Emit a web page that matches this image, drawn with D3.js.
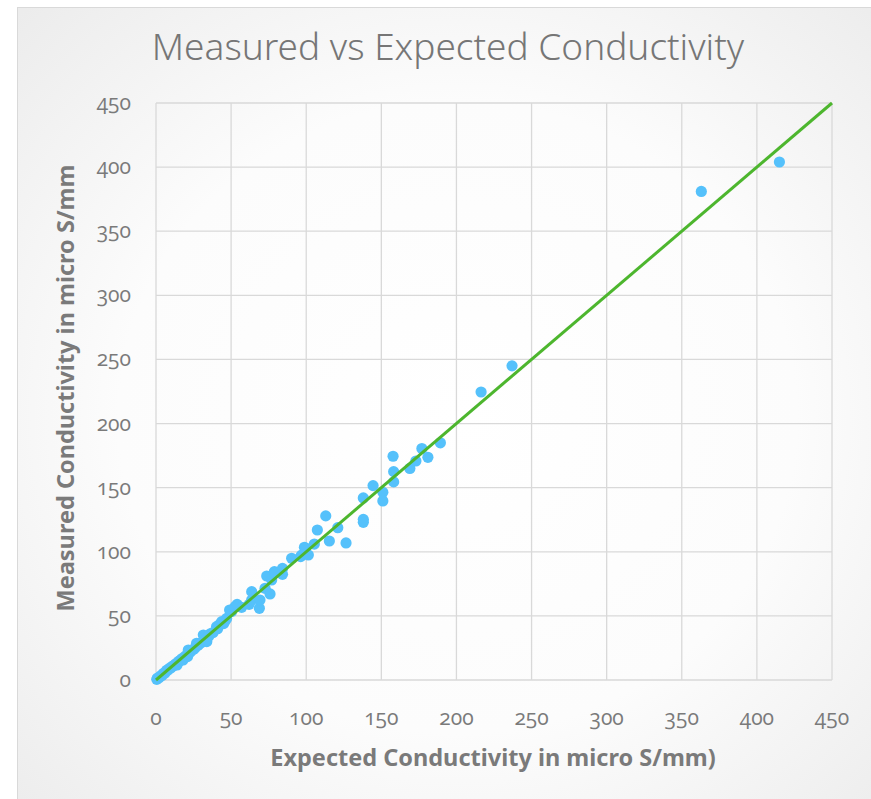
<!DOCTYPE html>
<html>
<head>
<meta charset="utf-8">
<script src="https://cdn.jsdelivr.net/npm/d3@7"></script>
<style>
  body { margin: 0; background: #fff; }
  svg text { font-family: "Noto Sans", "Open Sans", sans-serif; }
  .tick-label { font-family: "Open Sans", sans-serif; font-variant-numeric: oldstyle-nums; font-feature-settings: "onum" 1; }
</style>
</head>
<body>
<div id="chart"></div>
<script>
// expected conductivity (x) and measured conductivity (y), micro S/mm
var expected = [0.5, 1, 2, 3, 4, 5, 6, 7, 8, 9, 10, 11, 12, 13, 14, 15, 16, 17, 18, 19,
  20, 21, 22, 21.5, 23, 25, 26, 27, 28, 30, 31.5, 32, 33.8, 34, 35, 36, 38, 40.3, 41, 42,
  43.7, 45, 46, 47, 49, 50.3, 52.6, 54, 57, 62, 63.7, 63.7, 68.8, 69.2, 72.6, 73.7, 75.9, 77, 78.8, 79.2,
  84.2, 84.2, 90.3, 96.3, 97, 98.8, 99.7, 101.4, 105.4, 107.4, 113, 115.4, 121, 126.5, 138, 138, 138, 144.5, 151, 151,
  157.8, 158.2, 158.2, 169, 173, 177, 181, 189.3, 216.4, 237, 363, 415];
var measured = [0.5, 1.5, 1.8, 3.2, 3.5, 5.2, 5.5, 7.5, 7.8, 9.1, 9.5, 10.8, 11.2, 12.5, 11.7, 14.5, 15, 16.5, 15.6, 18,
  19, 18.2, 21, 23.4, 22, 24, 25, 28.6, 27, 29, 35.1, 30.5, 29.9, 33, 34, 36, 37, 41.6, 40, 43,
  45.5, 44, 46, 48, 54.6, 53.3, 57.2, 59, 56.7, 59, 68.9, 62.4, 55.9, 62.4, 71.5, 81.1, 67.1, 78, 84.5, 83.7,
  87, 82.4, 94.9, 96.2, 97.5, 103.5, 102.7, 97.5, 106, 117, 128, 108.4, 118.8, 106.9, 142, 125.3, 123, 151.6, 146.4, 139.6,
  174.5, 162.5, 154.5, 165, 170.8, 180.5, 173.7, 185, 224.6, 245, 381, 404];
var ticks = [0, 50, 100, 150, 200, 250, 300, 350, 400, 450];
var trend = [0, 450];

var W = 871, H = 799;
var svg = d3.select("#chart").append("svg").attr("width", W).attr("height", H);

var defs = svg.append("defs");
var grad = defs.append("radialGradient").attr("id", "bg")
  .attr("cx", "50%").attr("cy", "50%").attr("r", "70%");
grad.append("stop").attr("offset", "0%").attr("stop-color", "#ffffff");
grad.append("stop").attr("offset", "55%").attr("stop-color", "#fcfcfc");
grad.append("stop").attr("offset", "100%").attr("stop-color", "#ececec");

svg.append("rect").attr("x", 17.5).attr("y", 7.5).attr("width", 880).attr("height", 820)
  .attr("fill", "url(#bg)").attr("stroke", "#d9d9d9");

var x = d3.scaleLinear().domain([0, 450]).range([156, 832]);
var y = d3.scaleLinear().domain([0, 450]).range([680, 103]);

// grid
svg.append("g").selectAll("line").data(ticks).enter().append("line")
  .attr("x1", function(d){ return x(d); }).attr("x2", function(d){ return x(d); })
  .attr("y1", y(0)).attr("y2", y(450))
  .attr("stroke", "#d9d9d9").attr("stroke-width", 1.3);
svg.append("g").selectAll("line").data(ticks).enter().append("line")
  .attr("y1", function(d){ return y(d); }).attr("y2", function(d){ return y(d); })
  .attr("x1", x(0)).attr("x2", x(450))
  .attr("stroke", "#d9d9d9").attr("stroke-width", 1.3);

// tick labels
svg.append("g").selectAll("text").data(ticks).enter().append("text")
  .attr("class", "tick-label")
  .attr("x", 131).attr("y", function(d){ return y(d) + 7; })
  .attr("text-anchor", "end").attr("fill", "#7a7a7a").style("font-size", "21px")
  .text(function(d){ return d; });
svg.append("g").selectAll("text").data(ticks).enter().append("text")
  .attr("class", "tick-label")
  .attr("x", function(d){ return x(d); }).attr("y", 725)
  .attr("text-anchor", "middle").attr("fill", "#7a7a7a").style("font-size", "21px")
  .text(function(d){ return d; });

// points
var pts = expected.map(function(d, i){ return [d, measured[i]]; });
svg.append("g").selectAll("circle").data(pts).enter().append("circle")
  .attr("cx", function(d){ return x(d[0]); })
  .attr("cy", function(d){ return y(d[1]); })
  .attr("r", 5.6)
  .attr("fill", "#55c1fb");

// trend line y = x
svg.append("line")
  .attr("x1", x(trend[0])).attr("y1", y(trend[0]))
  .attr("x2", x(trend[1])).attr("y2", y(trend[1]))
  .attr("stroke", "#4db62e").attr("stroke-width", 3);

// titles
svg.append("text").attr("x", 448).attr("y", 60).attr("text-anchor", "middle")
  .attr("fill", "#767676").style("font-size", "37px").style("font-weight", 300)
  .text("Measured vs Expected Conductivity");
svg.append("text").attr("x", 493).attr("y", 766).attr("text-anchor", "middle")
  .attr("fill", "#7a7a7a").style("font-size", "23.5px").style("font-weight", "bold")
  .text("Expected Conductivity in micro S/mm)");
svg.append("text").attr("transform", "translate(74,388) rotate(-90)").attr("text-anchor", "middle")
  .attr("fill", "#7a7a7a").style("font-size", "23.5px").style("font-weight", "bold")
  .text("Measured Conductivity in  micro S/mm");
</script>
</body>
</html>
